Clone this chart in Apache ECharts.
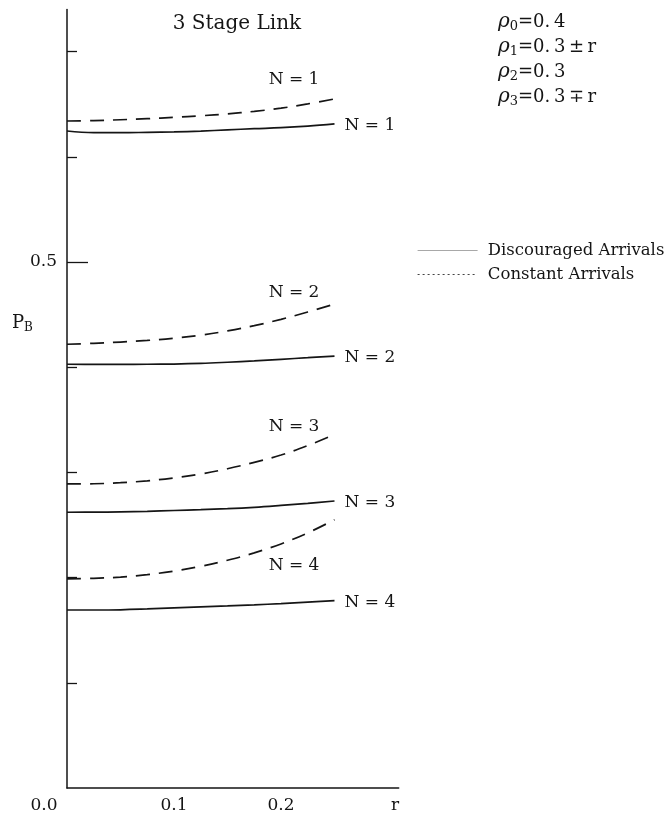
<!DOCTYPE html>
<html>
<head>
<meta charset="utf-8">
<title>3 Stage Link</title>
<script src="https://cdn.jsdelivr.net/npm/echarts@6/dist/echarts.min.js"></script>
<style>
  html, body { margin: 0; padding: 0; background: #fff; }
  #chart { width: 671px; height: 818px; }
</style>
</head>
<body>
<div id="chart"></div>
<script>
// Link offset r along the x axis
const rValues = [0, 0.025, 0.05, 0.075, 0.1, 0.125, 0.15, 0.175, 0.2, 0.225, 0.25];

// Blocking probability P_B, discouraged arrivals (solid curves)
const discouragedN1 = [0.6245, 0.6230, 0.6229, 0.6232, 0.6236, 0.6244, 0.6256, 0.6267, 0.6277, 0.6292, 0.6312];
const discouragedN2 = [0.4028, 0.4027, 0.4027, 0.4028, 0.4030, 0.4036, 0.4047, 0.4060, 0.4075, 0.4090, 0.4106];
const discouragedN3 = [0.2621, 0.2622, 0.2625, 0.2630, 0.2638, 0.2646, 0.2655, 0.2668, 0.2686, 0.2706, 0.2728];
const discouragedN4 = [0.1692, 0.1692, 0.1694, 0.1702, 0.1712, 0.1722, 0.1731, 0.1741, 0.1753, 0.1767, 0.1781];

// Blocking probability P_B, constant arrivals (dashed curves)
const constantN1 = [0.6340, 0.6344, 0.6352, 0.6362, 0.6375, 0.6390, 0.6408, 0.6432, 0.6462, 0.6503, 0.6550];
const constantN2 = [0.4218, 0.4227, 0.4239, 0.4254, 0.4275, 0.4305, 0.4345, 0.4395, 0.4455, 0.4525, 0.4600];
const constantN3 = [0.2890, 0.2892, 0.2902, 0.2920, 0.2948, 0.2985, 0.3035, 0.3095, 0.3165, 0.3255, 0.3360];
const constantN4 = [0.1987, 0.1993, 0.2005, 0.2028, 0.2062, 0.2107, 0.2165, 0.2235, 0.2320, 0.2425, 0.2550];

const curveLabels = ['N = 1', 'N = 2', 'N = 3', 'N = 4'];
const yTickValues = [0.1, 0.2, 0.3, 0.4, 0.6, 0.7];
const yLabelValues = [0.5];
const xLabelValues = [0, 0.1, 0.2, 0.3];
const loadLines = [
  '{g|ρ}{s|0}{v|=0.\u20094}',
  '{g|ρ}{s|1}{v|=0.\u20093\u2009±\u2009r}',
  '{g|ρ}{s|2}{v|=0.\u20093}',
  '{g|ρ}{s|3}{v|=0.\u20093\u2009∓\u2009r}'
];

const FONT = '"DejaVu Serif", "Liberation Serif", serif';
const INK = '#151515';

const toPairs = vals => rValues.map((r, i) => [r, vals[i]]);

// Where the "N = k" tag of each dashed curve sits, relative to the point at index 8
const dashedTag = [
  { position: 'top', distance: 20 },
  { position: 'top', distance: 18 },
  { position: 'top', distance: 20 },
  { position: 'bottom', distance: 13 }
];
const tagIndex = 8;

const solidSets = [discouragedN1, discouragedN2, discouragedN3, discouragedN4];
const dashedSets = [constantN1, constantN2, constantN3, constantN4];

const series = [];
solidSets.forEach((vals, k) => {
  series.push({
    name: 'Discouraged Arrivals',
    type: 'line',
    data: toPairs(vals),
    smooth: 0.4,
    symbol: 'none',
    silent: true,
    color: INK,
    lineStyle: { color: INK, width: 1.7 },
    endLabel: {
      show: true,
      formatter: curveLabels[k],
      distance: 10,
      offset: [0, 2],
      fontFamily: FONT,
      fontSize: 17,
      color: INK
    }
  });
});
dashedSets.forEach((vals, k) => {
  series.push({
    name: 'Constant Arrivals',
    type: 'line',
    data: toPairs(vals),
    smooth: 0.4,
    symbol: 'none',
    silent: true,
    color: INK,
    lineStyle: { color: INK, width: 1.7, type: [14, 9] },
    markPoint: {
      symbol: 'circle',
      symbolSize: 0,
      silent: true,
      data: [{
        coord: [rValues[tagIndex], vals[tagIndex]],
        label: {
          show: true,
          formatter: curveLabels[k],
          position: dashedTag[k].position,
          distance: dashedTag[k].distance,
          offset: [13, 0],
          fontFamily: FONT,
          fontSize: 17,
          color: INK
        }
      }]
    }
  });
});

const chart = echarts.init(document.getElementById('chart'));
chart.setOption({
  backgroundColor: '#fff',
  animation: false,
  title: {
    text: '3 Stage Link',
    left: 232,
    top: 9,
    textAlign: 'center',
    textStyle: { fontFamily: FONT, fontSize: 20, fontWeight: 'normal', color: INK }
  },
  legend: {
    orient: 'vertical',
    left: 412,
    top: 237,
    itemWidth: 60,
    itemHeight: 14,
    itemGap: 7,
    selectedMode: false,
    formatter: name => ' ' + name,
    textStyle: { fontFamily: FONT, fontSize: 16.5, color: INK },
    data: [
      { name: 'Discouraged Arrivals', itemStyle: { opacity: 0 }, lineStyle: { color: '#a8a8a8', width: 1, type: 'solid' } },
      { name: 'Constant Arrivals', itemStyle: { opacity: 0 }, lineStyle: { color: '#444', width: 1.2, type: [2, 3] } }
    ]
  },
  grid: {
    left: 67,
    right: 272.3,
    top: 9.5,
    bottom: 30,
    outerBoundsMode: 'none'
  },
  xAxis: {
    type: 'value',
    min: 0,
    max: 0.31,
    interval: 0.1,
    axisLine: { show: true, lineStyle: { color: INK, width: 1.5 } },
    axisTick: { show: false },
    splitLine: { show: false },
    axisLabel: {
      customValues: xLabelValues,
      margin: 9,
      fontFamily: FONT,
      fontSize: 17,
      color: INK,
      formatter: v => {
        if (v === 0) return '{z|0.0}';
        if (Math.abs(v - 0.3) < 1e-9) return '{r|r}';
        return v.toFixed(1);
      },
      rich: {
        z: { fontFamily: FONT, fontSize: 17, color: INK, padding: [0, 46, 0, 0] },
        r: { fontFamily: FONT, fontSize: 17, color: INK, padding: [0, 0, 0, 14] }
      }
    }
  },
  yAxis: [
    {
      type: 'value',
      min: 0,
      max: 0.74,
      interval: 0.1,
      axisLine: { show: true, lineStyle: { color: INK, width: 1.5 } },
      axisTick: { show: true, inside: true, length: 10, customValues: yTickValues, lineStyle: { color: INK, width: 1.3 } },
      splitLine: { show: false },
      axisLabel: {
        customValues: yLabelValues,
        margin: 10,
        fontFamily: FONT,
        fontSize: 17,
        color: INK,
        formatter: v => v.toFixed(1)
      }
    },
    {
      type: 'value',
      min: 0,
      max: 0.74,
      interval: 0.1,
      position: 'left',
      axisLine: { show: false },
      axisTick: { show: true, inside: true, length: 21, customValues: yLabelValues, lineStyle: { color: INK, width: 1.3 } },
      axisLabel: { show: false },
      splitLine: { show: false }
    }
  ],
  graphic: [
    {
      type: 'text',
      left: 12,
      top: 314,
      silent: true,
      style: {
        text: '{p|P}{b|B}',
        rich: {
          p: { fontFamily: FONT, fontSize: 18, fill: INK, lineHeight: 22, verticalAlign: 'middle' },
          b: { fontFamily: FONT, fontSize: 12, fill: INK, lineHeight: 12, verticalAlign: 'bottom' }
        }
      }
    },
    {
      type: 'group',
      left: 498,
      top: 12,
      silent: true,
      children: loadLines.map((t, i) => ({
        type: 'text',
        y: i * 25,
        style: {
          text: t,
          rich: {
            g: { fontFamily: FONT, fontSize: 20, fontStyle: 'italic', fill: INK, lineHeight: 22, verticalAlign: 'middle' },
            s: { fontFamily: FONT, fontSize: 13, fill: INK, lineHeight: 12, verticalAlign: 'bottom' },
            v: { fontFamily: FONT, fontSize: 18, fill: INK, lineHeight: 22, verticalAlign: 'middle' }
          }
        }
      }))
    }
  ],
  series: series
});
</script>
</body>
</html>
